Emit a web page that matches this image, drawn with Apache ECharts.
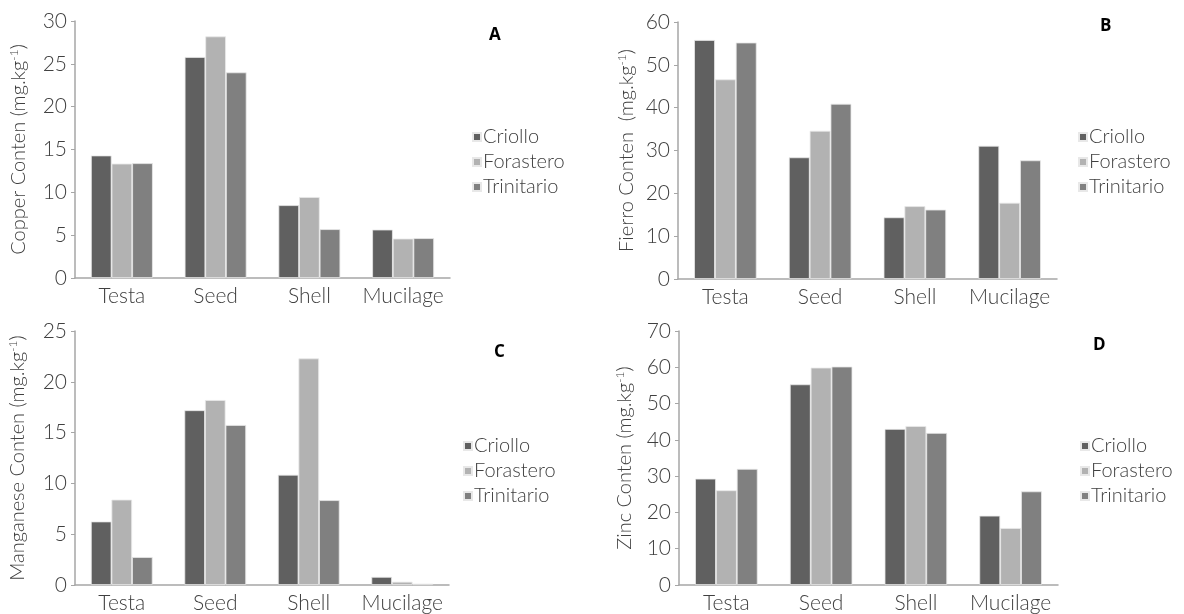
<!DOCTYPE html>
<html><head><meta charset="utf-8">
<script src="https://cdn.jsdelivr.net/npm/echarts@6/dist/echarts.min.js"></script>
<style>html,body{margin:0;padding:0;background:#fff}#c{width:1184px;height:614px}</style>
</head><body><div id="c"></div>
<script>
const categories = ['Testa', 'Seed', 'Shell', 'Mucilage'];
const varieties = ['Criollo', 'Forastero', 'Trinitario'];
const colors = ['#606060', '#b2b2b2', '#808080'];

// Panel A: Copper
const copperCriollo = [14.3, 25.8, 8.5, 5.65];
const copperForastero = [13.35, 28.2, 9.45, 4.6];
const copperTrinitario = [13.4, 24.0, 5.7, 4.65];
// Panel B: Fierro (iron)
const ironCriollo = [55.8, 28.4, 14.4, 31.1];
const ironForastero = [46.6, 34.6, 17.0, 17.8];
const ironTrinitario = [55.2, 40.9, 16.2, 27.7];
// Panel C: Manganese
const mnCriollo = [6.25, 17.2, 10.85, 0.8];
const mnForastero = [8.4, 18.2, 22.3, 0.32];
const mnTrinitario = [2.75, 15.75, 8.35, 0.13];
// Panel D: Zinc
const znCriollo = [29.3, 55.3, 43.0, 19.1];
const znForastero = [26.1, 59.9, 43.8, 15.7];
const znTrinitario = [32.0, 60.2, 41.9, 25.8];

const panelLetters = ['A', 'B', 'C', 'D'];
const axisNames = ['Copper Conten (mg.kg', 'Fierro Conten  (mg.kg', 'Manganese Conten (mg.kg', 'Zinc Conten (mg.kg'];
const yMax = [30, 60, 25, 70];
const yInterval = [5, 10, 5, 10];

const panelData = [
  [copperCriollo, copperForastero, copperTrinitario],
  [ironCriollo, ironForastero, ironTrinitario],
  [mnCriollo, mnForastero, mnTrinitario],
  [znCriollo, znForastero, znTrinitario]
];

const FONT = 'Lato';
const TXT = '#404040';
const AX = '#a6a6a6';

const grids = [
  {left: 75, top: 21, width: 375, height: 257},
  {left: 678, top: 22, width: 379, height: 257},
  {left: 75, top: 331, width: 374, height: 257},
  {left: 679, top: 331, width: 379, height: 258}
];
const legendPos = [
  {left: 467, top: 122},
  {left: 1073, top: 122},
  {left: 458, top: 431},
  {left: 1075, top: 431}
];
const titlePos = [
  {left: 484, top: 22},
  {left: 1095, top: 13},
  {left: 489, top: 339},
  {left: 1088, top: 332}
];
const nameGaps = [45, 40, 46, 43];

const option = {
  animation: false,
  backgroundColor: '#fff',
  textStyle: {fontFamily: FONT},
  title: panelLetters.map((t, i) => ({
    text: t, left: titlePos[i].left, top: titlePos[i].top,
    textStyle: {fontFamily: 'Open Sans', fontWeight: 'bold', fontSize: 17, color: '#000'}
  })),
  legend: legendPos.map((p, i) => ({
    data: varieties, orient: 'vertical', left: p.left, top: p.top,
    icon: 'rect', itemWidth: 8, itemHeight: 8, itemGap: 5, selectedMode: false,
    textStyle: {fontFamily: FONT, fontWeight: 300, fontSize: 20, color: TXT, padding: [0, 0, 0, -3]}
  })),
  grid: grids,
  xAxis: grids.map((g, i) => ({
    type: 'category', gridIndex: i, data: categories,
    axisLine: {lineStyle: {color: AX, width: 1.5}},
    axisTick: {show: false},
    axisLabel: {fontFamily: FONT, fontWeight: 300, fontSize: 21, color: TXT, margin: 8, interval: 0}
  })),
  yAxis: grids.map((g, i) => ({
    type: 'value', gridIndex: i, min: 0, max: yMax[i], interval: yInterval[i],
    splitLine: {show: false},
    axisLine: {show: true, lineStyle: {color: AX, width: 1.5}},
    axisTick: {show: true, length: 4, lineStyle: {color: AX}},
    axisLabel: {fontFamily: FONT, fontWeight: 300, fontSize: 21, color: TXT, margin: 8},
    name: '{a|' + axisNames[i] + '}{b|-1}{a|)}',
    nameLocation: 'middle', nameGap: nameGaps[i], nameRotate: 90,
    nameTextStyle: {
      rich: {
        a: {fontFamily: FONT, fontWeight: 300, fontSize: 20, color: TXT, lineHeight: 22},
        b: {fontFamily: FONT, fontWeight: 300, fontSize: 12, color: TXT, verticalAlign: 'top', lineHeight: 22}
      }
    }
  })),
  series: []
};

panelData.forEach((arr, gi) => {
  arr.forEach((vals, si) => {
    option.series.push({
      type: 'bar', name: varieties[si], xAxisIndex: gi, yAxisIndex: gi,
      data: vals, barGap: '0%', barCategoryGap: '34%',
      itemStyle: {color: colors[si], borderColor: '#e8e8e8', borderWidth: 0.8}
    });
  });
});

echarts.init(document.getElementById('c'), null, {renderer: 'canvas'}).setOption(option);
</script></body></html>
